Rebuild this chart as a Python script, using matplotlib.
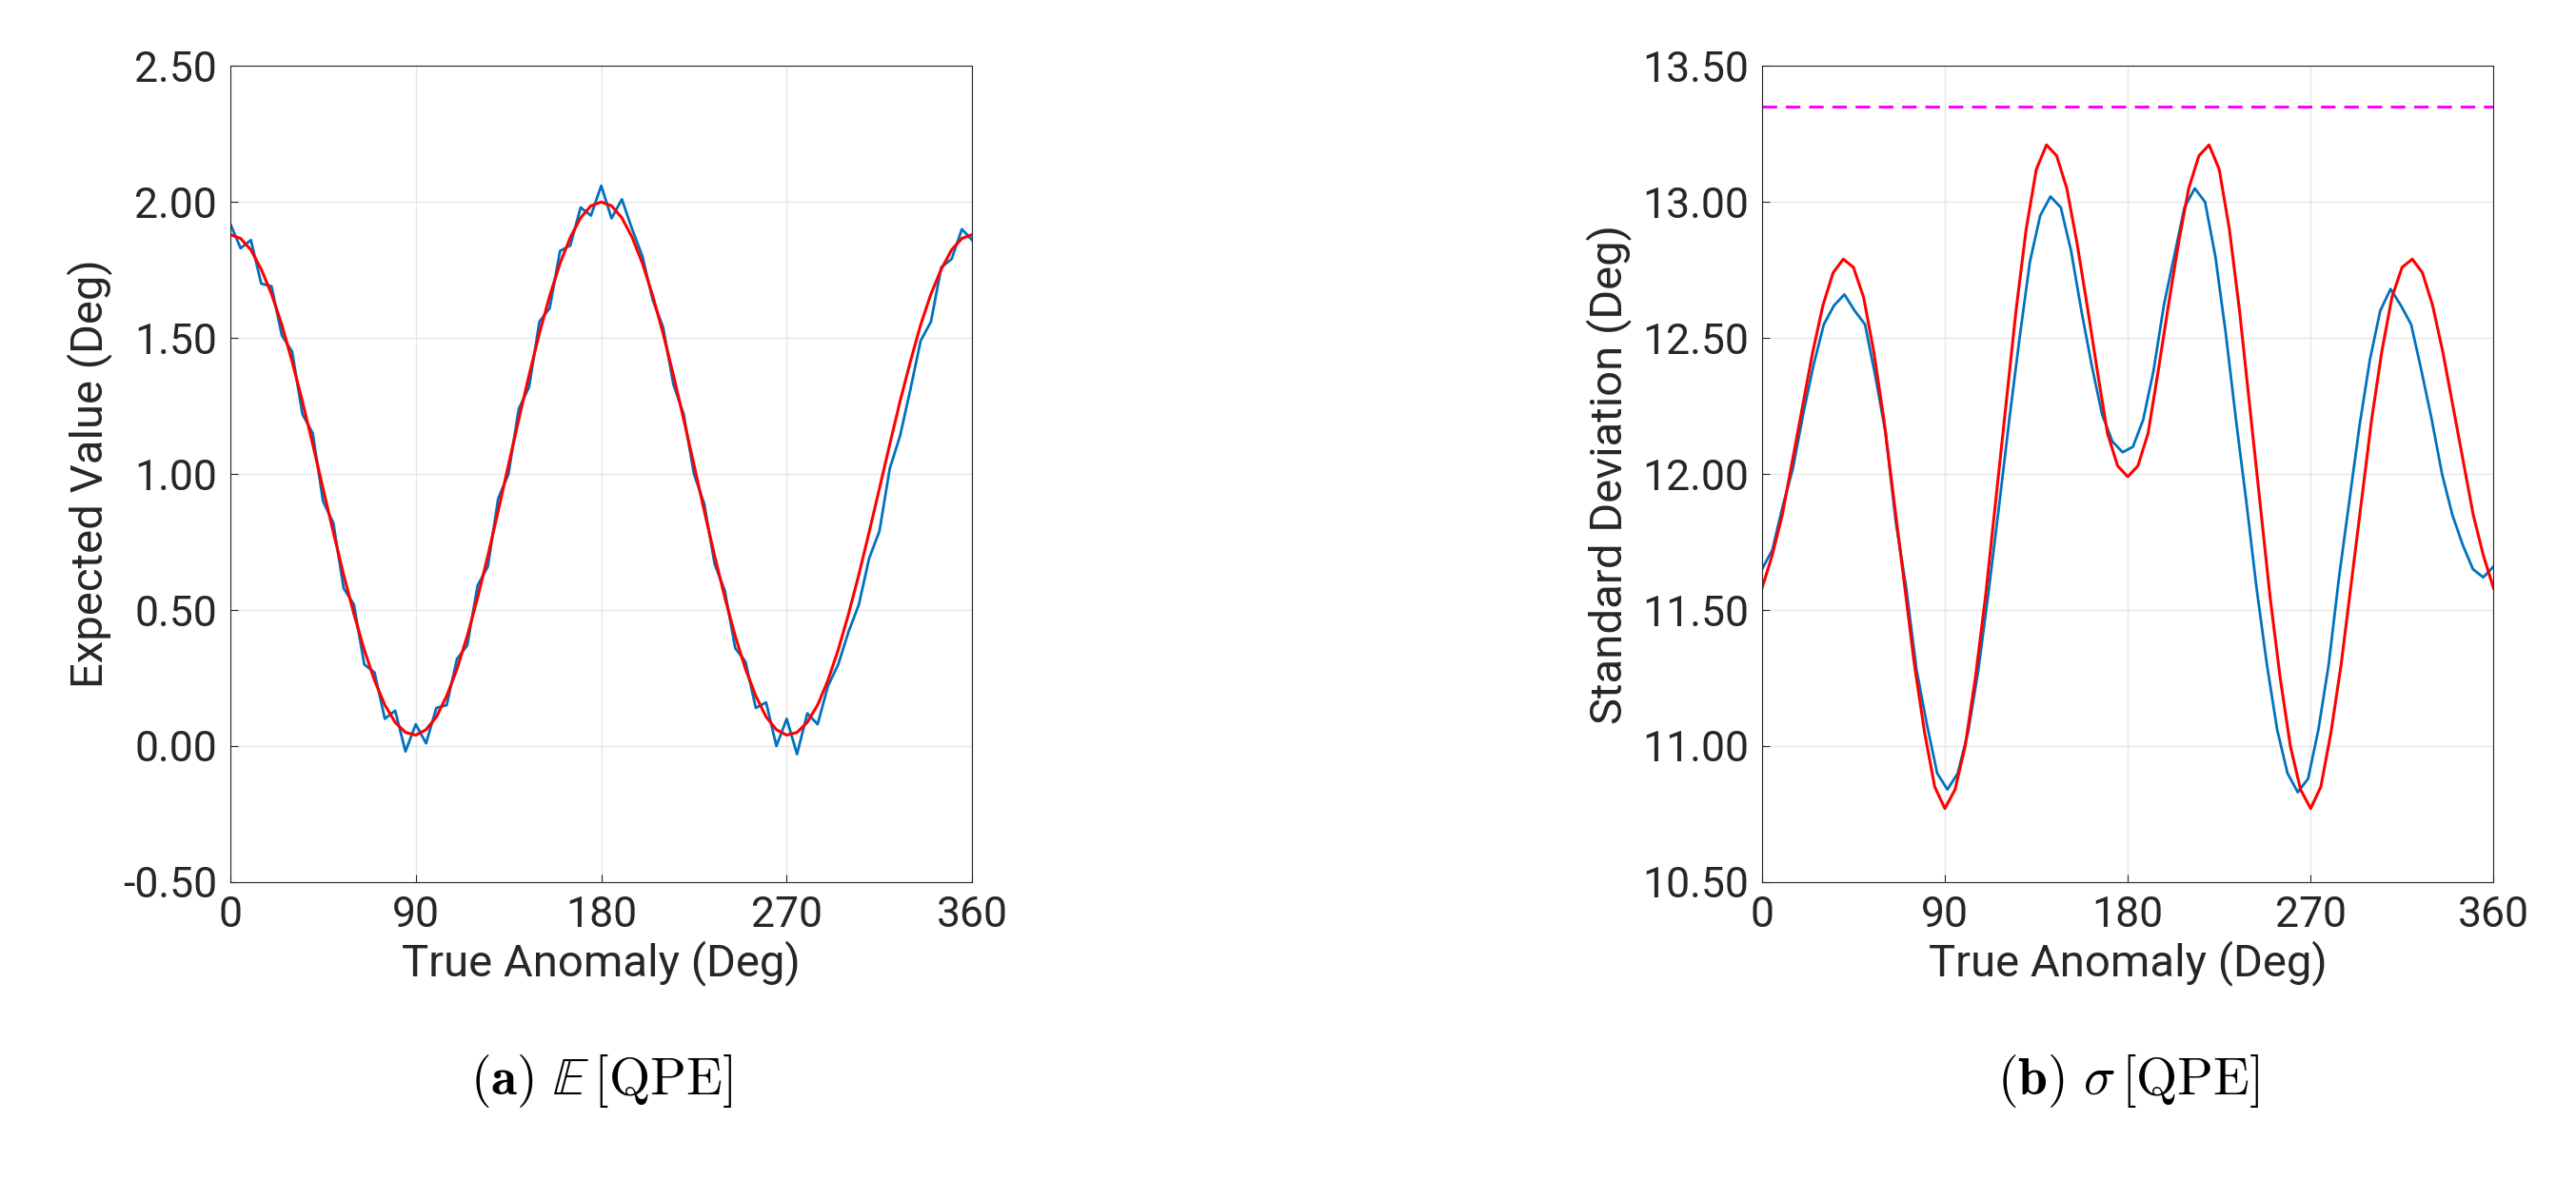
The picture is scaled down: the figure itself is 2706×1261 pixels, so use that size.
import numpy as np
import matplotlib
matplotlib.use("Agg")
import matplotlib.pyplot as plt

plt.rcParams['font.family'] = ['Roboto', 'DejaVu Sans']
plt.rcParams['mathtext.fontset'] = 'cm'

# Left panel: expected value (red model half 0..180 step 5, mirrored)
red_left_half = [1.88,1.866,1.824,1.753,1.662,1.549,1.413,1.267,1.109,0.947,0.786,0.630,0.485,0.354,0.241,0.151,0.087,0.050,0.040,0.060,0.107,0.184,0.283,0.405,0.545,0.700,0.864,1.034,1.201,1.364,1.517,1.655,1.774,1.870,1.942,1.986,2.0]
blue_left = [1.92,1.83,1.86,1.70,1.69,1.51,1.45,1.22,1.15,0.90,0.82,0.58,0.52,0.30,0.27,0.10,0.13,-0.02,0.08,0.01,0.14,0.15,0.32,0.37,0.59,0.66,0.91,1.00,1.24,1.32,1.56,1.61,1.82,1.84,1.98,1.95,2.06,1.94,2.01,1.90,1.80,1.64,1.54,1.33,1.22,1.00,0.89,0.67,0.57,0.36,0.31,0.14,0.16,0.00,0.10,-0.03,0.12,0.08,0.22,0.30,0.42,0.52,0.69,0.79,1.02,1.14,1.31,1.49,1.56,1.76,1.79,1.90,1.86]

# Right panel: standard deviation
red_right_half = [11.58,11.70,11.85,12.05,12.25,12.45,12.62,12.74,12.79,12.76,12.65,12.45,12.20,11.90,11.60,11.30,11.05,10.85,10.77,10.84,11.00,11.25,11.55,11.90,12.25,12.60,12.90,13.12,13.21,13.17,13.05,12.85,12.62,12.38,12.15,12.03,11.99]
blue_right = [11.65,11.72,11.88,12.02,12.22,12.40,12.55,12.62,12.66,12.60,12.55,12.36,12.15,11.82,11.58,11.28,11.08,10.90,10.84,10.90,11.05,11.28,11.57,11.88,12.20,12.50,12.78,12.95,13.02,12.98,12.82,12.60,12.40,12.22,12.12,12.08,12.10,12.20,12.38,12.62,12.80,12.98,13.05,13.00,12.80,12.52,12.20,11.90,11.58,11.30,11.06,10.90,10.83,10.88,11.06,11.30,11.62,11.90,12.18,12.42,12.60,12.68,12.62,12.55,12.38,12.20,12.00,11.85,11.74,11.65,11.62,11.66]
bound_right = 13.35

xticks = [0, 90, 180, 270, 360]

def full(half):
    return list(half) + list(half[-2::-1])

fig = plt.figure(figsize=(27.06, 12.61), dpi=100)
axL = fig.add_axes([0.0894, 0.265, 0.288, 0.680])
axR = fig.add_axes([0.684, 0.265, 0.284, 0.680])

BLUE = '#0072BD'
for ax, blue, redh, ylim, yt, ylabel in [
    (axL, blue_left, red_left_half, (-0.5, 2.5), np.arange(-0.5, 2.51, 0.5), 'Expected Value (Deg)'),
    (axR, blue_right, red_right_half, (10.5, 13.5), np.arange(10.5, 13.51, 0.5), 'Standard Deviation (Deg)')]:
    xb = np.linspace(0, 360, len(blue))
    red = full(redh)
    xr = np.linspace(0, 360, len(red))
    ax.plot(xb, blue, color=BLUE, lw=2.0)
    ax.plot(xr, red, color='red', lw=2.2)
    ax.set_xlim(0, 360)
    ax.set_ylim(*ylim)
    ax.set_xticks(xticks)
    ax.set_yticks(yt)
    ax.set_yticklabels([f'{v:.2f}' for v in yt])
    ax.grid(True, color='#e6e6e6', lw=1)
    ax.set_axisbelow(True)
    ax.tick_params(labelsize=32, direction='in', length=6, pad=10, color='#262626', labelcolor='#262626')
    for s in ax.spines.values():
        s.set_color('#262626'); s.set_linewidth(0.8)
    ax.set_xlabel('True Anomaly (Deg)', fontsize=34, color='#262626', labelpad=4)
    ax.set_ylabel(ylabel, fontsize=34, color='#262626', labelpad=8)

axR.axhline(bound_right, color='magenta', ls='--', lw=2.2, dashes=(5, 3))

fig.text(0.2334, 0.099, r'$\mathbf{(a)}\ \mathbb{E}\,[\mathrm{QPE}]$', fontsize=40, ha='center', va='center')
fig.text(0.826, 0.099, r'$\mathbf{(b)}\ \sigma\,[\mathrm{QPE}]$', fontsize=40, ha='center', va='center')

fig.savefig('out.png', dpi=100)
